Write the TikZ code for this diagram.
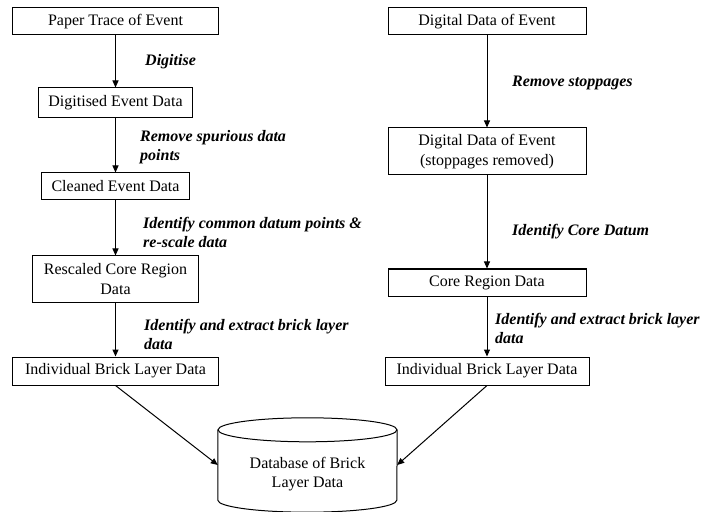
\documentclass[tikz,border=0pt]{standalone}
\usepackage{fontspec}
\setmainfont{Liberation Serif}
\usetikzlibrary{arrows.meta}
\begin{document}
\begin{tikzpicture}[x=1bp,y=-1bp,
  box/.style={draw,line width=1bp,inner sep=0pt,align=center,font=\fontsize{16bp}{19.5bp}\selectfont},
  lbl/.style={anchor=west,align=left,inner sep=0pt,font=\fontsize{16bp}{19bp}\selectfont\bfseries\itshape},
  arr/.style={-{Triangle[length=7bp,width=6bp]},line width=1bp},
  ln/.style={line width=1bp}]
\useasboundingbox (0,0) rectangle (707,512);
% left column
\node[box,minimum width=205bp,minimum height=27bp] (p1) at (115.5,21.5) {Paper Trace of Event};
\node[box,minimum width=154bp,minimum height=30bp] (p2) at (115.5,103) {Digitised Event Data};
\node[box,minimum width=148bp,minimum height=27bp] (p3) at (115.5,186.5) {Cleaned Event Data};
\node[box,minimum width=166bp,minimum height=46bp] (p4) at (115.5,279) {Rescaled Core Region\\Data};
\node[box,minimum width=205bp,minimum height=28bp] (p5) at (115.5,371) {Individual Brick Layer Data};
% right column
\node[box,minimum width=198bp,minimum height=27bp] (q1) at (487,21.5) {Digital Data of Event};
\node[box,minimum width=198bp,minimum height=47bp] (q2) at (487,151.5) {Digital Data of Event\\(stoppages removed)};
\node[box,minimum width=198bp,minimum height=27bp] (q3) at (487,282.5) {Core Region Data};
\node[box,minimum width=204bp,minimum height=28bp] (q4) at (487,371) {Individual Brick Layer Data};
% database
\node[minimum width=179bp,minimum height=70bp,inner sep=0pt] (db) at (307.5,465) {};
\draw[ln] (db.north west) -- (db.south west)
  arc[start angle=180,end angle=0,x radius=89.5,y radius=12] -- (db.north east);
\draw[ln] (db.north) ellipse[x radius=89.5,y radius=12];
\node[box,draw=none] (dbt) at (307.5,474) {Database of Brick\\Layer Data};
% arrows
\draw[arr] (p1) -- (p2);
\draw[arr] (p2) -- (p3);
\draw[arr] (p3) -- (p4);
\draw[arr] (p4) -- (p5);
\draw[arr] (q1) -- (q2);
\draw[arr] (q2) -- (q3);
\draw[arr] (q3) -- (q4);
\draw[arr] (p5.south) -- (db.west);
\draw[arr] (q4.south) -- (db.east);
% labels
\node[lbl] (l1) at (145,62) {Digitise};
\node[lbl] (l2) at (140,147.5) {Remove spurious data\\points};
\node[lbl] (l3) at (143,232.5) {Identify common datum points \&\\re-scale data};
\node[lbl] (l4) at (144,334.5) {Identify and extract brick layer\\data};
\node[lbl] (r1) at (512,83) {Remove stoppages};
\node[lbl] (r2) at (512,232) {Identify Core Datum};
\node[lbl] (r3) at (495,328) {Identify and extract brick layer\\data};
\end{tikzpicture}
\end{document}
